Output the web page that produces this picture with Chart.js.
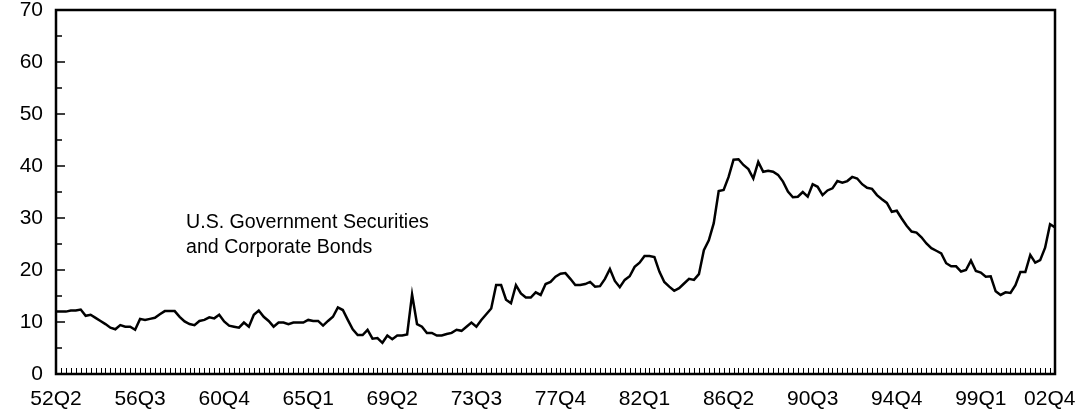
<!DOCTYPE html>
<html>
<head>
<meta charset="utf-8">
<script src="https://cdn.jsdelivr.net/npm/chart.js@4/dist/chart.umd.min.js"></script>
<style>
  html, body { margin: 0; padding: 0; background: #fff; }
  #wrap { width: 1078px; height: 412px; position: relative; }
</style>
</head>
<body>
<div id="wrap"><canvas id="c"></canvas></div>
<script>
// Quarterly share values, 1952Q2 .. 2002Q4
const values = [
  12.0,12.0,12.0,12.2,12.2,12.4,11.2,11.4,10.8,10.2,
  9.6,8.9,8.6,9.4,9.1,9.1,8.5,10.6,10.4,10.6,
  10.8,11.5,12.1,12.1,12.1,11.0,10.1,9.6,9.4,10.2,
  10.4,10.9,10.7,11.4,10.1,9.3,9.1,8.9,9.9,9.1,
  11.4,12.2,11.0,10.2,9.1,9.9,9.9,9.6,9.9,9.9,
  9.9,10.4,10.2,10.2,9.3,10.2,11.0,12.8,12.3,10.4,
  8.6,7.5,7.5,8.5,6.8,6.9,6.0,7.4,6.7,7.4,
  7.4,7.6,15.3,9.6,9.1,7.9,7.9,7.4,7.4,7.7,
  7.9,8.5,8.3,9.1,9.9,9.1,10.4,11.5,12.6,17.1,
  17.1,14.3,13.6,17.1,15.5,14.7,14.7,15.7,15.2,17.3,
  17.7,18.7,19.3,19.4,18.3,17.1,17.1,17.3,17.7,16.8,
  16.9,18.3,20.2,17.9,16.7,18.1,18.8,20.6,21.4,22.7,
  22.7,22.5,19.7,17.7,16.8,16.0,16.5,17.4,18.3,18.1,
  19.2,23.8,25.7,29.0,35.2,35.4,37.9,41.2,41.3,40.2,
  39.4,37.6,40.8,38.9,39.1,38.9,38.3,37.0,35.1,34.0,
  34.1,35.0,34.1,36.5,36.0,34.4,35.3,35.7,37.1,36.8,
  37.1,37.9,37.6,36.5,35.8,35.6,34.4,33.6,32.9,31.2,
  31.4,29.9,28.5,27.4,27.2,26.3,25.1,24.2,23.7,23.2,
  21.3,20.7,20.7,19.7,20.0,21.8,19.8,19.5,18.7,18.8,
  15.9,15.2,15.7,15.6,17.1,19.6,19.6,22.9,21.4,21.9,
  24.3,28.8,28.2
];

// Category labels: quarters 52Q2 .. 02Q4
const categories = [];
for (let y = 1952; y <= 2002; y++) {
  for (let q = 1; q <= 4; q++) {
    if (y === 1952 && q < 2) continue;
    categories.push(String(y % 100).padStart(2, '0') + 'Q' + q);
  }
}

const xTickLabels = ['52Q2','56Q3','60Q4','65Q1','69Q2','73Q3','77Q4','82Q1','86Q2','90Q3','94Q4','99Q1','02Q4'];
const yTickValues = [0,10,20,30,40,50,60,70];
const yMinorValues = [5,15,25,35,45,55,65];
const annotationLines = ['U.S. Government Securities', 'and Corporate Bonds'];
const annotationAt = { index: 26.3, value: 28.1 };

const FONT = '"Liberation Sans", Arial, Helvetica, sans-serif';

const framePlugin = {
  id: 'frame',
  afterDatasetsDraw(chart) {
    const { ctx, chartArea: a, scales: { x, y } } = chart;
    ctx.save();
    ctx.strokeStyle = '#000';
    // x minor ticks (inward)
    ctx.lineWidth = 1;
    ctx.beginPath();
    for (let i = 0; i < categories.length; i++) {
      const px = Math.round(x.getPixelForValue(i)) + 0.5;
      ctx.moveTo(px, a.bottom);
      ctx.lineTo(px, a.bottom - 6);
    }
    ctx.stroke();
    // y ticks (inward)
    ctx.lineWidth = 1.5;
    ctx.beginPath();
    yTickValues.forEach(v => {
      const py = y.getPixelForValue(v);
      ctx.moveTo(a.left, py); ctx.lineTo(a.left + 9, py);
    });
    yMinorValues.forEach(v => {
      const py = y.getPixelForValue(v);
      ctx.moveTo(a.left, py); ctx.lineTo(a.left + 6, py);
    });
    ctx.stroke();
    // frame
    ctx.lineWidth = 2.5;
    ctx.strokeRect(a.left, a.top, a.right - a.left, a.bottom - a.top);
    // annotation
    ctx.fillStyle = '#000';
    ctx.font = '19.6px ' + FONT;
    ctx.textBaseline = 'alphabetic';
    ctx.textAlign = 'left';
    const ax = x.getPixelForValue(annotationAt.index);
    const ay = y.getPixelForValue(annotationAt.value);
    annotationLines.forEach((t, k) => ctx.fillText(t, ax, ay + k * 25));
    ctx.restore();
  }
};

new Chart(document.getElementById('c'), {
  type: 'line',
  data: {
    labels: categories,
    datasets: [{
      data: values,
      borderColor: '#000',
      borderWidth: 2.5,
      pointRadius: 0,
      tension: 0,
      fill: false
    }]
  },
  options: {
    responsive: true,
    maintainAspectRatio: false,
    animation: false,
    layout: { padding: { top: 10, right: 23, left: 0, bottom: 0 } },
    plugins: { legend: { display: false }, tooltip: { enabled: false } },
    scales: {
      x: {
        type: 'category',
        offset: false,
        grid: { display: false },
        border: { display: false },
        ticks: {
          autoSkip: false,
          maxRotation: 0,
          minRotation: 0,
          padding: 5,
          color: '#000',
          font: { family: FONT, size: 21 },
          callback: function (val, i) {
            const lab = categories[i];
            if (!xTickLabels.includes(lab)) return '';
            // last label sits slightly left of its tick so it stays inside the page
            return i === categories.length - 1 ? lab + '\u2002' : lab;
          }
        },
        afterFit(scale) { scale.height = 38; scale.paddingLeft = 0; scale.paddingRight = 0; }
      },
      y: {
        min: 0,
        max: 70,
        grid: { display: false },
        border: { display: false },
        ticks: {
          stepSize: 10,
          padding: 5,
          color: '#000',
          font: { family: FONT, size: 21 }
        },
        afterFit(scale) { scale.width = 56; scale.paddingTop = 0; scale.paddingBottom = 0; }
      }
    }
  },
  plugins: [framePlugin]
});
</script>
</body>
</html>
